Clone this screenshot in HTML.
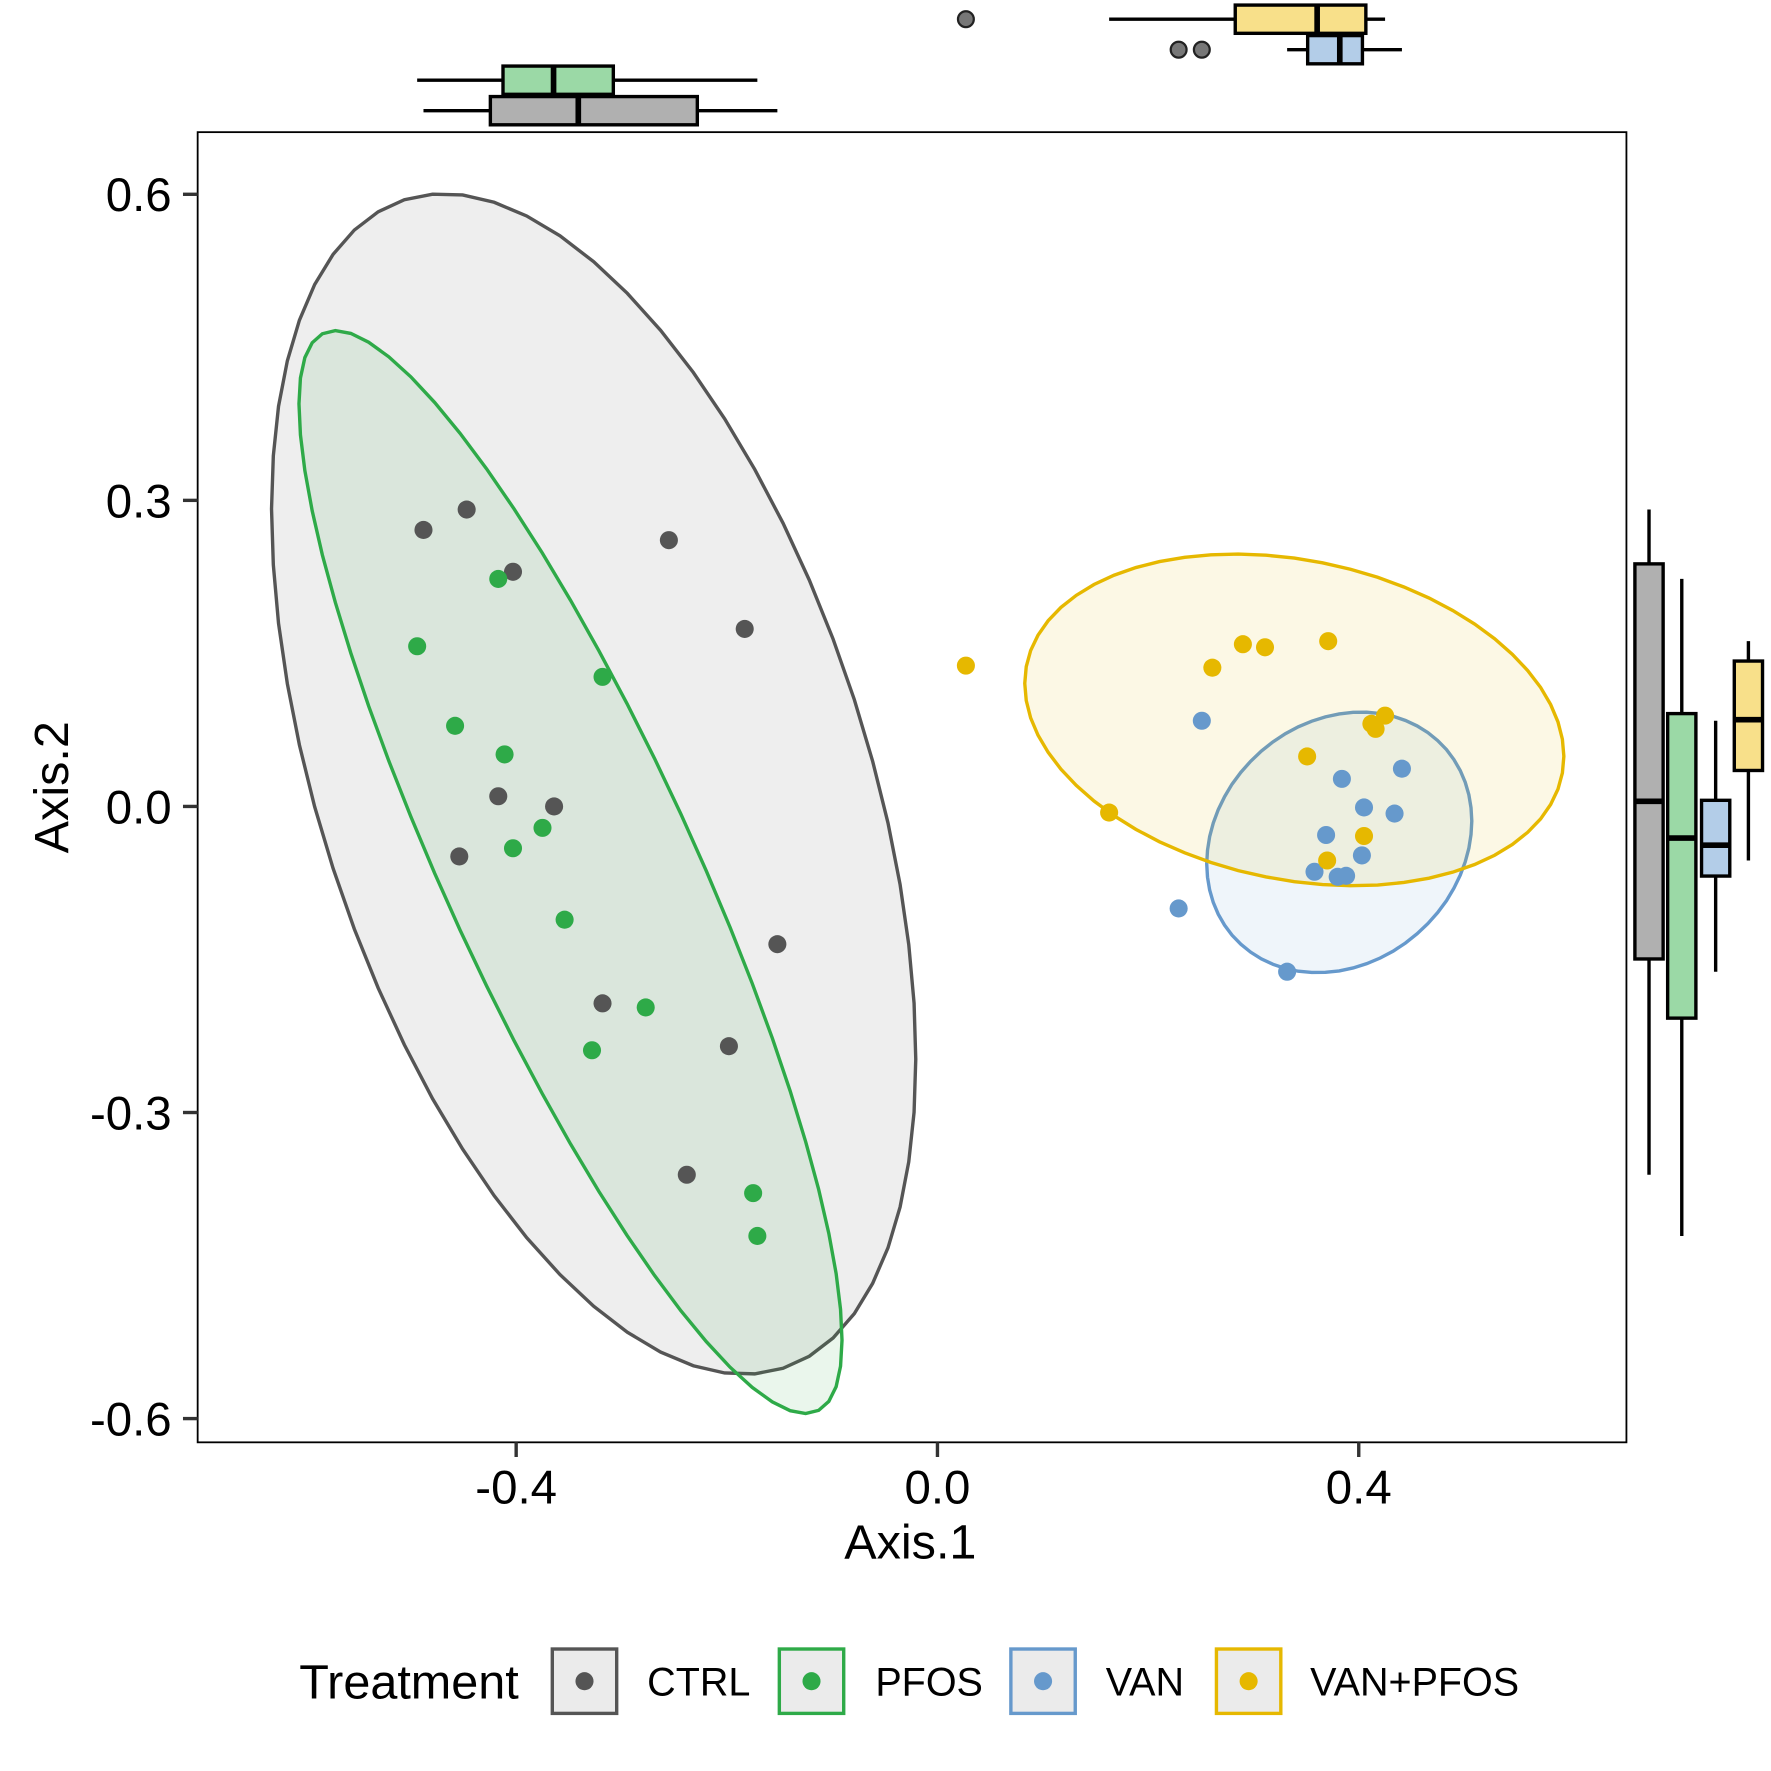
<!DOCTYPE html>
<html><head><meta charset="utf-8"><style>
html,body{margin:0;padding:0;background:#fff;}
svg{display:block;font-family:"Liberation Sans",Arial,sans-serif;}
</style></head><body>
<svg id="chart" width="1771" height="1771" viewBox="0 0 1568 1568" xmlns="http://www.w3.org/2000/svg">
<g id="ell"></g>
<g id="pts"></g>
<rect x="175" y="117" width="1265" height="1160" fill="none" stroke="#000" stroke-width="1.6"/>
<g id="axes"></g>
<g id="topbox"></g>
<g id="rightbox"></g>
<text x="806" y="1380" font-size="43" text-anchor="middle">Axis.1</text>
<text transform="translate(60,697) rotate(-90)" font-size="43" text-anchor="middle">Axis.2</text>
<g id="legend">
<text x="265" y="1504" font-size="43">Treatment</text>
</g>
</svg>
<script>
const groups = ["CTRL","PFOS","VAN","VAN+PFOS"];
const colors = ["#555555","#2eaa48","#6699cc","#e6b800"];
const boxFills = ["#b0b0b0","#9bd9a6","#b3cde8","#f8e08a"];
const ctrlX = [-0.488,-0.447,-0.403,-0.255,-0.183,-0.417,-0.364,-0.454,-0.152,-0.318,-0.198,-0.238];
const ctrlY = [0.271,0.291,0.230,0.261,0.174,0.010,0.000,-0.049,-0.135,-0.193,-0.235,-0.361];
const pfosX = [-0.494,-0.417,-0.318,-0.458,-0.411,-0.375,-0.403,-0.354,-0.277,-0.328,-0.175,-0.171];
const pfosY = [0.157,0.223,0.127,0.079,0.051,-0.021,-0.041,-0.111,-0.197,-0.239,-0.379,-0.421];
const vanX = [0.251,0.384,0.441,0.405,0.434,0.369,0.403,0.358,0.380,0.388,0.229,0.332];
const vanY = [0.084,0.027,0.037,-0.001,-0.007,-0.028,-0.048,-0.064,-0.069,-0.068,-0.100,-0.162];
const vpX = [0.027,0.261,0.290,0.311,0.371,0.412,0.416,0.425,0.351,0.163,0.405,0.370];
const vpY = [0.138,0.136,0.159,0.156,0.162,0.081,0.076,0.089,0.049,-0.006,-0.029,-0.053];
const xTicks = [-0.4,0.0,0.4];
const yTicks = [-0.6,-0.3,0.0,0.3,0.6];

const NS="http://www.w3.org/2000/svg";
const X = v => 830 + v*932.5;
const Y = v => 714 - v*903.3;
function mk(tag, attrs, parent){const e=document.createElementNS(NS,tag);for(const k in attrs)e.setAttribute(k,attrs[k]);parent.appendChild(e);return e;}
const data=[[ctrlX,ctrlY],[pfosX,pfosY],[vanX,vanY],[vpX,vpY]];
// robust-estimate approximation: radius multiplier and centre nudge per group (styling)
const radMul=[0.92,0.9,0.68,0.76];
const ctrNudge=[[0,0],[0,0],[0.017,-0.002],[0.022,0.005]];

const ellG=document.getElementById('ell');
data.forEach((d,gi)=>{
  const xs=d[0],ys=d[1],n=xs.length;
  const mx=xs.reduce((a,b)=>a+b)/n+ctrNudge[gi][0],my=ys.reduce((a,b)=>a+b)/n+ctrNudge[gi][1];
  const ax=xs.reduce((a,b)=>a+b)/n, ay=ys.reduce((a,b)=>a+b)/n;
  let sxx=0,syy=0,sxy=0;
  for(let i=0;i<n;i++){sxx+=(xs[i]-ax)**2;syy+=(ys[i]-ay)**2;sxy+=(xs[i]-ax)*(ys[i]-ay);}
  sxx/=n-1;syy/=n-1;sxy/=n-1;
  const a=Math.sqrt(sxx),c=sxy/a,b=Math.sqrt(Math.max(syy-c*c,0));
  const r=2.82*radMul[gi];
  let p='';
  for(let k=0;k<=60;k++){const t=2*Math.PI*k/60;const u=Math.cos(t)*r,v=Math.sin(t)*r;
    const ex=mx+a*u,ey=my+c*u+b*v;p+=(k?'L':'M')+X(ex).toFixed(1)+','+Y(ey).toFixed(1);}
  const e=mk('path',{d:p+'Z',fill:colors[gi],'fill-opacity':0.1,stroke:colors[gi],'stroke-width':3},ellG);
  
  
});
const ptG=document.getElementById('pts');
data.forEach((d,gi)=>{
  d[0].forEach((xv,i)=>{
    const c=mk('circle',{cx:X(xv),cy:Y(d[1][i]),r:8,fill:colors[gi]},ptG);
    
    
  });
});
const axG=document.getElementById('axes');
xTicks.forEach(t=>{
  const l=mk('line',{x1:X(t),x2:X(t),y1:1277,y2:1290,stroke:'#333','stroke-width':3},axG);
  
  
  const tx=mk('text',{x:X(t),y:1331,'font-size':42,'text-anchor':'middle'},axG);
  tx.textContent=t.toFixed(1);
  
  
});
yTicks.forEach(t=>{
  const l=mk('line',{x1:162,x2:175,y1:Y(t),y2:Y(t),stroke:'#333','stroke-width':3},axG);
  
  
  const tx=mk('text',{x:152,y:Y(t)+15,'font-size':42,'text-anchor':'end'},axG);
  tx.textContent=t.toFixed(1);
  
  
});
function q(s,p){const h=(s.length-1)*p,lo=Math.floor(h),hi=Math.ceil(h);return s[lo]+(s[hi]-s[lo])*(h-lo);}
function stats(arr){const s=[...arr].sort((a,b)=>a-b);const q1=q(s,0.25),m=q(s,0.5),q3=q(s,0.75),iqr=q3-q1;
  const inl=s.filter(v=>v>=q1-1.5*iqr&&v<=q3+1.5*iqr);
  return {q1,m,q3,lo:inl[0],hi:inl[inl.length-1],out:s.filter(v=>v<q1-1.5*iqr||v>q3+1.5*iqr)};}
const topCenters=[98,71,44,17], rightCenters=[1460,1489,1519,1548], hw=12.5;
const tb=document.getElementById('topbox'), rb=document.getElementById('rightbox');
data.forEach((d,gi)=>{
  const nm=groups[gi].toLowerCase().replace('+','-');
  let s=stats(d[0]),c=topCenters[gi];
  const g1=mk('g',{},tb);
  
  
  mk('line',{x1:X(s.lo),x2:X(s.hi),y1:c,y2:c,stroke:'#000','stroke-width':3},g1);
  mk('rect',{x:X(s.q1),y:c-hw,width:X(s.q3)-X(s.q1),height:2*hw,fill:boxFills[gi],stroke:'#000','stroke-width':3},g1);
  mk('line',{x1:X(s.m),x2:X(s.m),y1:c-hw,y2:c+hw,stroke:'#000','stroke-width':5},g1);
  s.out.forEach(v=>mk('circle',{cx:X(v),cy:c,r:7,fill:'#777',stroke:'#222','stroke-width':2},g1));
  s=stats(d[1]);c=rightCenters[gi];
  const g2=mk('g',{},rb);
  
  
  mk('line',{x1:c,x2:c,y1:Y(s.lo),y2:Y(s.hi),stroke:'#000','stroke-width':3},g2);
  mk('rect',{x:c-hw,y:Y(s.q3),width:2*hw,height:Y(s.q1)-Y(s.q3),fill:boxFills[gi],stroke:'#000','stroke-width':3},g2);
  mk('line',{x1:c-hw,x2:c+hw,y1:Y(s.m),y2:Y(s.m),stroke:'#000','stroke-width':5},g2);
  s.out.forEach(v=>mk('circle',{cx:c,cy:Y(v),r:7,fill:'#777',stroke:'#222','stroke-width':2},g2));
});
const lg=document.getElementById('legend');
const keyX=[489,690,895,1077], labX=[573,775,979,1160];
groups.forEach((gname,gi)=>{
  const g=mk('g',{},lg);
  
  
  mk('rect',{x:keyX[gi],y:1460,width:57,height:57,fill:'#ebebeb',stroke:colors[gi],'stroke-width':3},g);
  mk('circle',{cx:keyX[gi]+28.5,cy:1488.5,r:8,fill:colors[gi]},g);
  const t=mk('text',{x:labX[gi],y:1501,'font-size':35},g);
  t.textContent=gname;
});
</script>
</body></html>
